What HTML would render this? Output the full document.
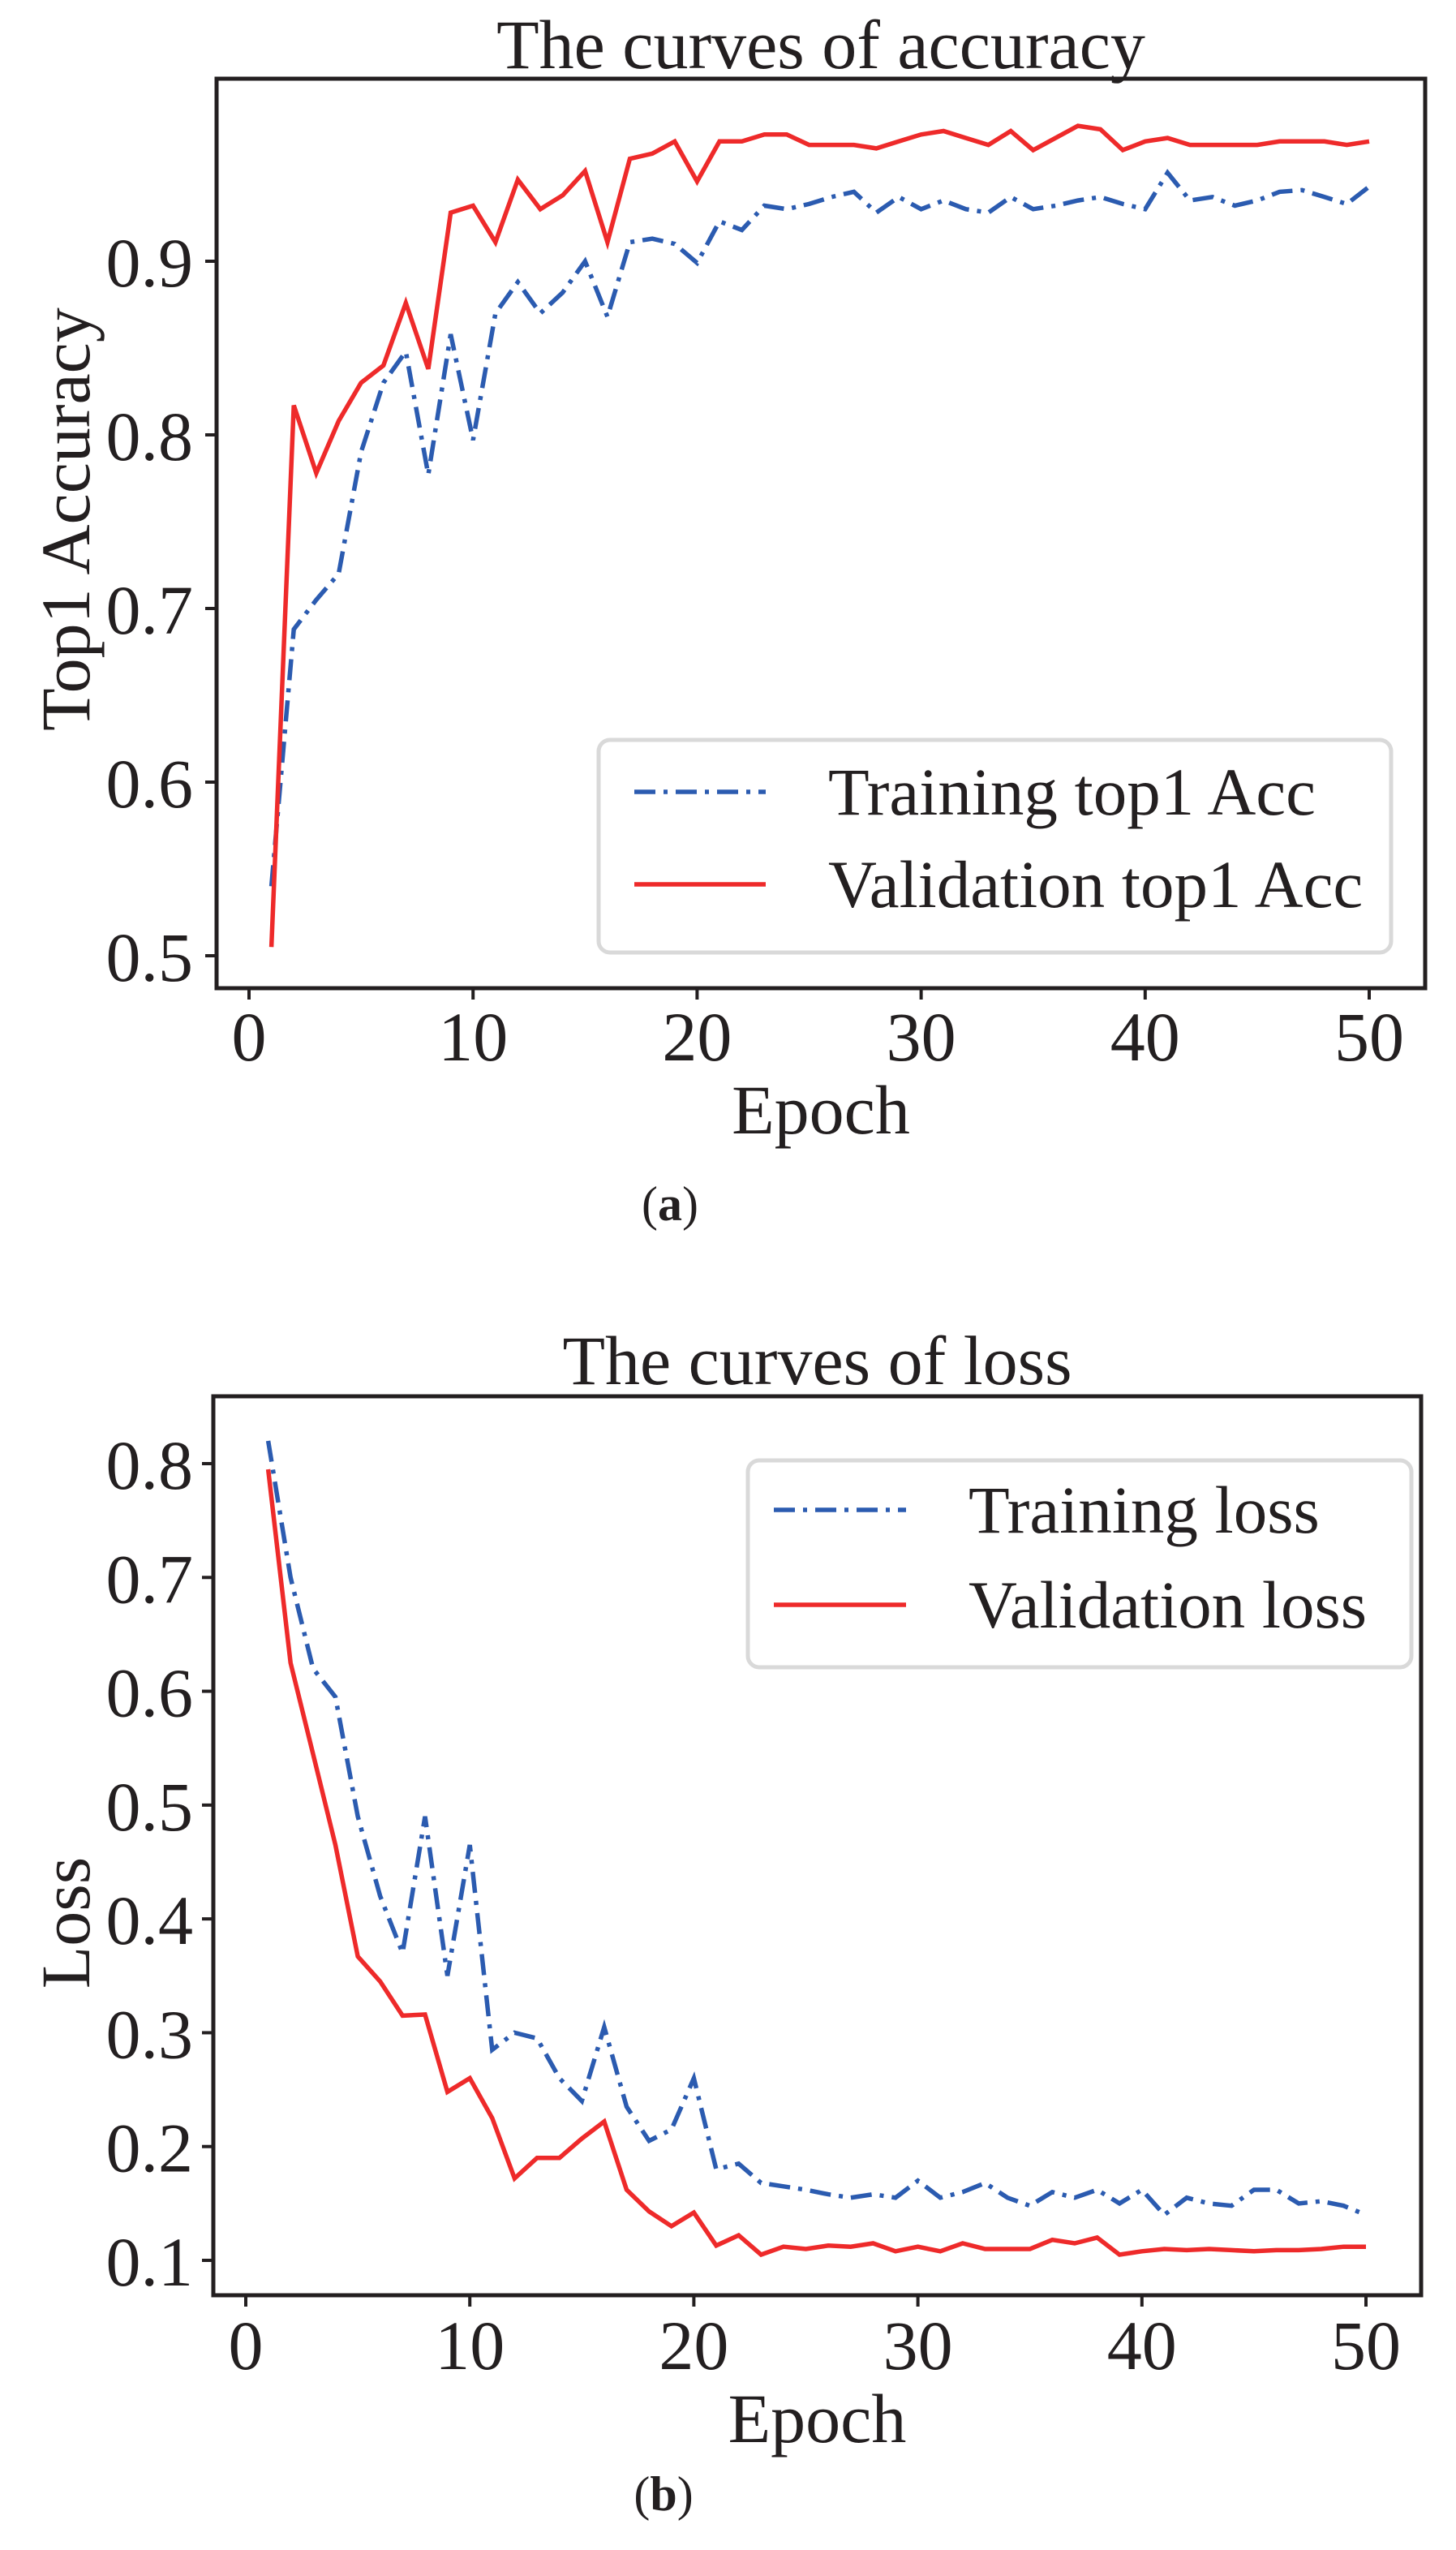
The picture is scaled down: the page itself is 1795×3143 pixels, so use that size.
<!DOCTYPE html>
<html><head><meta charset="utf-8">
<style>
html,body{margin:0;padding:0;background:#fff;}
svg{display:block;font-family:"Liberation Serif",serif;}
</style></head>
<body>
<svg id="fig" width="1795" height="3143" viewBox="0 0 1795 3143" xmlns="http://www.w3.org/2000/svg"></svg>
<script>
const epochs = Array.from({length:50},(_,i)=>i+1);
const accXTicks = [0,10,20,30,40,50];
const accYTicks = [0.5,0.6,0.7,0.8,0.9];
const lossYTicks = [0.1,0.2,0.3,0.4,0.5,0.6,0.7,0.8];
const trainAcc = [0.54,0.688,0.705,0.72,0.79,0.83,0.848,0.777,0.858,0.797,0.87,0.888,0.87,0.882,0.9,0.868,0.911,0.913,0.91,0.899,0.923,0.918,0.932,0.93,0.933,0.937,0.94,0.928,0.937,0.93,0.935,0.93,0.928,0.937,0.93,0.932,0.935,0.937,0.933,0.93,0.951,0.935,0.937,0.932,0.935,0.94,0.941,0.937,0.933,0.943];
const valAcc = [0.505,0.817,0.778,0.808,0.83,0.84,0.876,0.838,0.928,0.932,0.911,0.947,0.93,0.938,0.952,0.911,0.959,0.962,0.969,0.946,0.969,0.969,0.973,0.973,0.967,0.967,0.967,0.965,0.969,0.973,0.975,0.971,0.967,0.975,0.964,0.971,0.978,0.976,0.964,0.969,0.971,0.967,0.967,0.967,0.967,0.969,0.969,0.969,0.967,0.969];
const trainLoss = [0.82,0.70,0.62,0.595,0.49,0.42,0.37,0.49,0.35,0.465,0.285,0.30,0.295,0.26,0.24,0.305,0.235,0.205,0.215,0.26,0.18,0.185,0.168,0.165,0.162,0.158,0.155,0.158,0.155,0.17,0.155,0.16,0.168,0.155,0.148,0.16,0.155,0.162,0.15,0.162,0.14,0.155,0.15,0.148,0.162,0.162,0.15,0.152,0.148,0.14];
const valLoss = [0.795,0.625,0.545,0.465,0.367,0.345,0.315,0.316,0.248,0.26,0.225,0.172,0.19,0.19,0.207,0.222,0.162,0.143,0.13,0.142,0.113,0.122,0.105,0.112,0.11,0.113,0.112,0.115,0.108,0.112,0.108,0.115,0.11,0.11,0.11,0.118,0.115,0.12,0.105,0.108,0.11,0.109,0.11,0.109,0.108,0.109,0.109,0.11,0.112,0.112];

const NS="http://www.w3.org/2000/svg";
const svg=document.getElementById('fig');
function mk(tag,attrs,parent){const e=document.createElementNS(NS,tag);for(const k in attrs)e.setAttribute(k,attrs[k]);(parent||svg).appendChild(e);return e;}
const FONT=86, TICKF=86, LEGF=83;

function drawChart(cfg){
  const g=mk('g',{});
  
  
  const xs=v=>cfg.x0+(v-0)*(cfg.x50-cfg.x0)/50;
  const ys=v=>cfg.ya+(v-cfg.va)*(cfg.yb-cfg.ya)/(cfg.vb-cfg.va);
  const series=[{d:cfg.train,color:'#2b5bb0',dash:'26 10 5 10',name:'training-line'},{d:cfg.val,color:'#ee2a2a',dash:null,name:'validation-line'}];
  series.forEach(s=>{
    const pts=s.d.map((v,i)=>xs(epochs[i]).toFixed(1)+','+ys(v).toFixed(1)).join(' ');
    const a={points:pts,fill:'none',stroke:s.color,'stroke-width':5.5,'stroke-linejoin':'miter'};
    if(s.dash)a['stroke-dasharray']=s.dash;
    const pl=mk('polyline',a,g);
    
    
  });
  const fr=mk('rect',{x:cfg.L,y:cfg.T,width:cfg.R-cfg.L,height:cfg.B-cfg.T,fill:'none',stroke:'#231f20','stroke-width':5},g);
  
  
  accXTicks.forEach(t=>{
    const x=xs(t);
    mk('line',{x1:x,y1:cfg.B,x2:x,y2:cfg.B+14,stroke:'#231f20','stroke-width':4},g);
    const tx=mk('text',{x:x,y:cfg.xlabY,'text-anchor':'middle','font-size':TICKF,fill:'#231f20'},g);
    tx.textContent=t;
    
    
  });
  cfg.yticks.forEach(t=>{
    const y=ys(t);
    mk('line',{x1:cfg.L-14,y1:y,x2:cfg.L,y2:y,stroke:'#231f20','stroke-width':4},g);
    const tx=mk('text',{x:238,y:y+31,'text-anchor':'end','font-size':TICKF,fill:'#231f20'},g);
    tx.textContent=t.toFixed(1);
    
    
  });
  const lb=mk('rect',{x:cfg.leg.x,y:cfg.leg.y,width:cfg.leg.w,height:cfg.leg.h,rx:14,fill:'#fff','fill-opacity':0.8,stroke:'#d9d9d9','stroke-width':5},g);
  
  
  cfg.leg.items.forEach((it,i)=>{
    const y=cfg.leg.ly[i];
    const a={x1:cfg.leg.lx1,y1:y,x2:cfg.leg.lx2,y2:y,stroke:series[i].color,'stroke-width':5.5};
    if(series[i].dash)a['stroke-dasharray']=series[i].dash;
    mk('line',a,g);
    const tx=mk('text',{x:cfg.leg.tx,y:y+28,'font-size':LEGF,fill:'#231f20'},g);
    tx.textContent=it;
    
    
  });
  const tt=mk('text',{x:(cfg.L+cfg.R)/2,y:cfg.titleY,'text-anchor':'middle','font-size':FONT,fill:'#231f20'},g);
  tt.textContent=cfg.title;
  
  
  const xl=mk('text',{x:(cfg.L+cfg.R)/2,y:cfg.xtitleY,'text-anchor':'middle','font-size':FONT,fill:'#231f20'},g);
  xl.textContent='Epoch';
  
  
  const yl=mk('text',{x:0,y:0,'text-anchor':'middle','font-size':FONT,fill:'#231f20',transform:'translate(110,'+cfg.ytitleCY+') rotate(-90)'},g);
  yl.textContent=cfg.ytitle;
  
  
  const cap=mk('text',{x:cfg.capX,y:cfg.capY,'text-anchor':'middle','font-size':60,fill:'#231f20'},g);
  cap.innerHTML='(<tspan font-weight="bold">'+cfg.cap+'</tspan>)';
  
  
}

drawChart({name:'accuracy-chart',train:trainAcc,val:valAcc,L:267,R:1757,T:97,B:1218,x0:307,x50:1688,
  va:0.5,ya:1178,vb:0.9,yb:322,yticks:accYTicks,xlabY:1307,titleY:84,xtitleY:1397,ytitleCY:640,
  ytitle:'Top1 Accuracy',title:'The curves of accuracy',cap:'a',capX:826,capY:1504,
  leg:{x:738,y:912,w:977,h:262,lx1:782,lx2:944,ly:[976,1090],tx:1021,items:['Training top1 Acc','Validation top1 Acc']}});
drawChart({name:'loss-chart',train:trainLoss,val:valLoss,L:263,R:1752,T:1721,B:2829,x0:303,x50:1684,
  va:0.1,ya:2786,vb:0.8,yb:1804,yticks:lossYTicks,xlabY:2920,titleY:1706,xtitleY:3010,ytitleCY:2370,
  ytitle:'Loss',title:'The curves of loss',cap:'b',capX:818,capY:3094,
  leg:{x:922,y:1800,w:818,h:255,lx1:954,lx2:1117,ly:[1861,1978],tx:1194,items:['Training loss','Validation loss']}});
</script>
</body></html>
